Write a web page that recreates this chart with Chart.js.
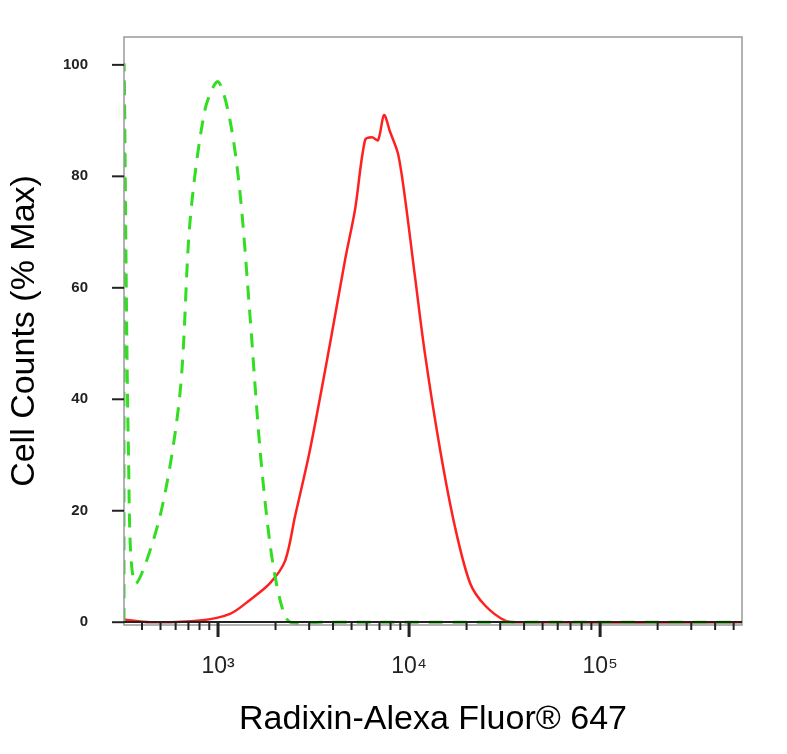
<!DOCTYPE html>
<html>
<head>
<meta charset="utf-8">
<script src="https://cdn.jsdelivr.net/npm/chart.js@4"></script>
<style>
  body { margin: 0; background: #fff; }
  #wrap { width: 787px; height: 754px; }
</style>
</head>
<body>
<div id="wrap"><canvas id="histChart" width="787" height="754"></canvas></div>
<script>
// isotype control (green dashed) and Radixin staining (red), x = fluorescence, y = % max
const controlX = [322, 322, 340, 367, 497, 632, 714, 855, 1000, 1156, 1304, 1470, 1659, 1872, 2112, 2382, 3420, 553000];
const controlY = [0, 100, 30, 7, 19, 41, 72, 92, 97, 90, 77, 55, 31, 14, 4, 0, 0, 0];
const radixinX = [322, 441, 805, 1156, 1470, 1872, 2244, 2530, 3032, 3858, 4623, 5212, 5884, 6398, 6882, 7396, 7952, 8760, 9530, 10740, 12130, 14530, 17420, 20870, 25000, 31840, 38110, 553000];
const radixinY = [0.5, 0, 0.3, 1.5, 4, 7, 11, 19, 31, 50, 65, 74, 86.5, 87, 86.5, 91, 88, 84, 76, 62, 48, 31, 17, 7, 3, 0.3, 0, 0];
const yTicks = [0, 20, 40, 60, 80, 100];
const majorX = [1e3, 1e4, 1e5];
const majorLabels = ["10³", "10⁴", "10⁵"];

const toPoints = (xs, ys) => xs.map((x, i) => ({ x: x, y: ys[i] }));

const tickPlugin = {
    id: "ticks",
    afterDraw(chart) {
        const ctx = chart.ctx;
        const a = chart.chartArea;
        const xs = chart.scales.x, ys = chart.scales.y;
        ctx.save();
        ctx.strokeStyle = "#999";
        ctx.lineWidth = 1.5;
        ctx.strokeRect(a.left, a.top, a.right - a.left, a.bottom - a.top);
        ctx.strokeStyle = "#222";
        ctx.lineWidth = 2;
        ctx.beginPath();
        ctx.moveTo(a.left, a.bottom - 3); ctx.lineTo(a.right, a.bottom - 3);
        ctx.stroke();
        yTicks.forEach(v => {
            const p = ys.getPixelForValue(v);
            ctx.beginPath(); ctx.moveTo(a.left - 12, p); ctx.lineTo(a.left, p); ctx.stroke();
        });
        for (let d = 100; d <= 1e6; d *= 10) {
            for (let m = 1; m <= 9; m++) {
                const v = d * m;
                if (v < xs.min || v > xs.max) continue;
                const p = xs.getPixelForValue(v);
                ctx.lineWidth = m === 1 ? 3 : 2;
                ctx.beginPath(); ctx.moveTo(p, a.bottom - 3); ctx.lineTo(p, a.bottom + (m === 1 ? 12 : 5)); ctx.stroke();
            }
        }
        ctx.restore();
    }
};

new Chart(document.getElementById("histChart"), {
    type: "line",
    data: {
        datasets: [
            { data: toPoints(controlX, controlY), borderColor: "#33dd22", borderWidth: 3, borderDash: [14, 10], pointRadius: 0, tension: 0.3 },
            { data: toPoints(radixinX, radixinY), borderColor: "#ff2020", borderWidth: 2.5, pointRadius: 0, tension: 0.3 }
        ]
    },
    options: {
        responsive: false,
        animation: false,
        layout: { padding: { top: -22, right: 45 } },
        plugins: { legend: { display: false }, tooltip: { enabled: false } },
        scales: {
            x: {
                type: "logarithmic", min: 322, max: 553000,
                afterFit: s => { s.height = 129; },
                afterBuildTicks: s => { s.ticks = majorX.map(v => ({ value: v })); },
                grid: { display: false }, border: { display: false },
                ticks: { padding: 20, color: "#222", font: { family: "Liberation Sans", size: 23 },
                    callback: (v) => majorLabels[majorX.indexOf(v)] },
                title: { display: true, text: "Radixin-Alexa Fluor® 647", color: "#000",
                    font: { family: "Liberation Sans", size: 34 }, padding: { top: 0, bottom: 14 } }
            },
            y: {
                min: -0.5, max: 105,
                afterFit: s => { s.width = 124; },
                afterBuildTicks: s => { s.ticks = yTicks.map(v => ({ value: v })); },
                grid: { display: false }, border: { display: false },
                ticks: { padding: 28, color: "#222", font: { family: "Liberation Sans", size: 15, weight: "bold" } },
                title: { display: true, text: "Cell Counts (% Max)", color: "#000",
                    font: { family: "Liberation Sans", size: 34 }, padding: { bottom: 8 } }
            }
        }
    },
    plugins: [tickPlugin]
});
</script>
</body>
</html>
